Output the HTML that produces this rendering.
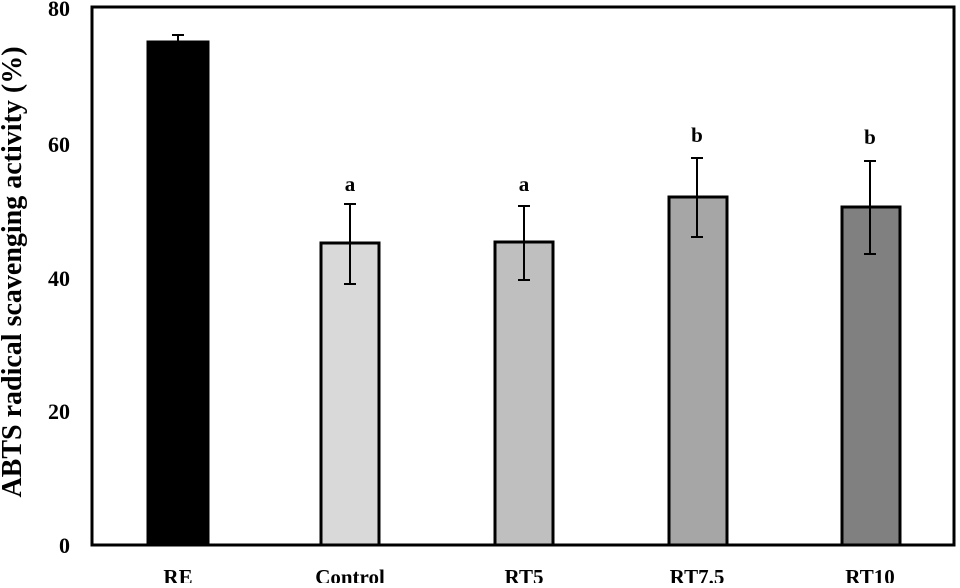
<!DOCTYPE html>
<html><head><style>body{margin:0;background:#fff}</style></head><body>
<svg width="960" height="583" xmlns="http://www.w3.org/2000/svg" font-family="Liberation Serif, serif" font-weight="bold">
<rect x="0" y="0" width="960" height="583" fill="#fff"/>
<g stroke="#000" stroke-width="3">
<rect x="148" y="42" width="60" height="503" fill="#000"/>
<rect x="321" y="243" width="58" height="302" fill="#d9d9d9"/>
<rect x="495" y="242" width="58" height="303" fill="#bfbfbf"/>
<rect x="669" y="197" width="58" height="348" fill="#a6a6a6"/>
<rect x="842" y="207" width="58" height="338" fill="#808080"/>
</g>
<g stroke="#000" stroke-width="2">
<path d="M178 42V35M172 35H184"/>
<path d="M350 204V284M344 204H356M344 284H356"/>
<path d="M524 206V280M518 206H530M518 280H530"/>
<path d="M697 158V237M691 158H703M691 237H703"/>
<path d="M870 161V254M864 161H876M864 254H876"/>
</g>
<rect x="92" y="7" width="862" height="538" fill="none" stroke="#000" stroke-width="3"/>
<g font-size="22" text-anchor="end">
<text x="70" y="16">80</text><text x="70" y="152">60</text><text x="70" y="286">40</text><text x="70" y="419">20</text><text x="70" y="553">0</text>
</g>
<g font-size="21" text-anchor="middle">
<text x="178" y="584">RE</text><text x="350" y="584">Control</text><text x="524" y="584">RT5</text><text x="697" y="584">RT7.5</text><text x="870" y="584">RT10</text>
<text x="350" y="191">a</text><text x="524" y="191">a</text><text x="697" y="142">b</text><text x="870" y="144">b</text>
</g>
<text transform="translate(21,272) rotate(-90)" font-size="28" text-anchor="middle">ABTS radical scavenging activity (%)</text>
</svg>
</body></html>
